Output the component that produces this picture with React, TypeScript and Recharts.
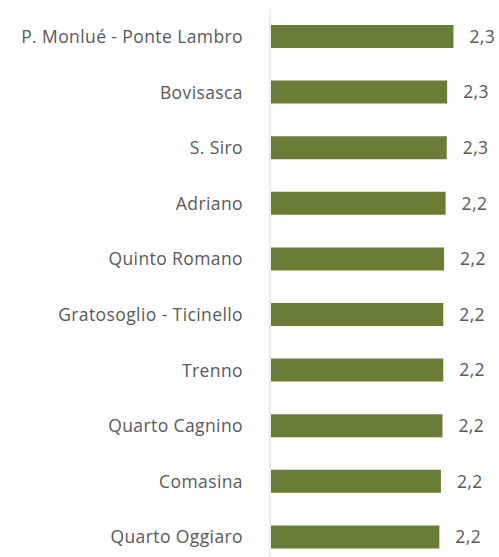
import React from 'react';
import { BarChart, Bar, XAxis, YAxis, LabelList } from 'recharts';

const categories = [
  'P. Monlué - Ponte Lambro',
  'Bovisasca',
  'S. Siro',
  'Adriano',
  'Quinto Romano',
  'Gratosoglio - Ticinello',
  'Trenno',
  'Quarto Cagnino',
  'Comasina',
  'Quarto Oggiaro',
];
const values = [2.34, 2.26, 2.255, 2.24, 2.22, 2.21, 2.21, 2.2, 2.18, 2.16];

const data = categories.map((name, i) => ({ name, value: values[i] }));

const fmt = (v: any) => Number(v).toFixed(1).replace('.', ',');

export default function App() {
  return (
    <div style={{ position: 'absolute', left: 0, top: 0, width: 499, height: 557, overflow: 'hidden', background: '#fff' }}>
      <BarChart
        width={499}
        height={565}
        data={data}
        layout="vertical"
        margin={{ top: 9, right: 33, bottom: 0, left: 0 }}
      >
        <XAxis type="number" domain={[0, 2.5]} hide />
        <YAxis
          type="category"
          dataKey="name"
          width={270}
          axisLine={{ stroke: '#ececec', strokeWidth: 2 }}
          tickLine={false}
          tickMargin={21}
          interval={0}
          tick={{ fill: '#595959', fontSize: 17.5, fontFamily: 'Open Sans', letterSpacing: 0.4 }}
        />
        <Bar dataKey="value" fill="#6a7d37" barSize={23} isAnimationActive={false}>
          <LabelList
            dataKey="value"
            position="right"
            offset={16}
            formatter={fmt}
            style={{ fill: '#595959', fontSize: 17.5, fontFamily: 'Open Sans', letterSpacing: 0.4 }}
          />
        </Bar>
      </BarChart>
    </div>
  );
}
